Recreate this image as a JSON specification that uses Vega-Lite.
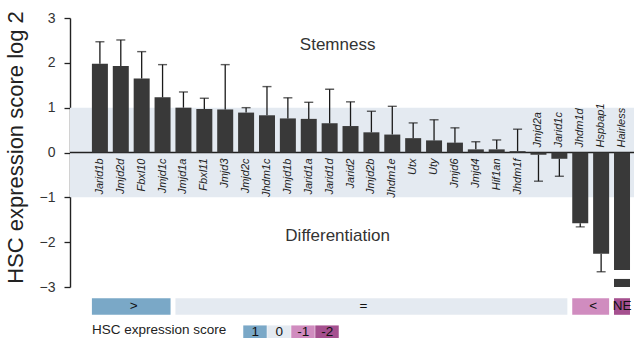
{
  "$schema": "https://vega.github.io/schema/vega-lite/v6.json",
  "width": 564,
  "height": 269,
  "autosize": "none",
  "padding": {"left": 70, "top": 18, "right": 0, "bottom": 51},
  "config": {
    "font": "Liberation Sans",
    "view": {"stroke": null}
  },
  "datasets": {
    "genes": [
      {"gene": "Jarid1b", "value": 1.98, "err": 2.47},
      {"gene": "Jmjd2d", "value": 1.93, "err": 2.51},
      {"gene": "Fbxl10", "value": 1.65, "err": 2.25},
      {"gene": "Jmjd1c", "value": 1.23, "err": 1.96},
      {"gene": "Jmjd1a", "value": 1.0, "err": 1.35},
      {"gene": "Fbxl11", "value": 0.97, "err": 1.21},
      {"gene": "Jmjd3", "value": 0.96, "err": 1.96},
      {"gene": "Jmjd2c", "value": 0.89, "err": 1.0},
      {"gene": "Jhdm1c", "value": 0.83, "err": 1.47},
      {"gene": "Jmjd1b", "value": 0.76, "err": 1.22},
      {"gene": "Jarid1a", "value": 0.75, "err": 1.12},
      {"gene": "Jarid1d", "value": 0.65, "err": 1.41},
      {"gene": "Jarid2", "value": 0.59, "err": 1.13},
      {"gene": "Jmjd2b", "value": 0.45, "err": 0.92},
      {"gene": "Jhdm1e", "value": 0.4, "err": 1.03},
      {"gene": "Utx", "value": 0.32, "err": 0.66},
      {"gene": "Uty", "value": 0.27, "err": 0.73},
      {"gene": "Jmjd6", "value": 0.22, "err": 0.55},
      {"gene": "Jmjd4", "value": 0.07, "err": 0.24},
      {"gene": "Hif1an", "value": 0.07, "err": 0.28},
      {"gene": "Jhdm1f", "value": 0.03, "err": 0.52},
      {"gene": "Jmjd2a", "value": -0.05, "err": -0.64},
      {"gene": "Jarid1c", "value": -0.14, "err": -0.53},
      {"gene": "Jhdm1d", "value": -1.58, "err": -1.66},
      {"gene": "Hspbap1", "value": -2.26, "err": -2.66},
      {"gene": "Hairless", "value": -2.62, "err": null}
    ],
    "breakSeg": [{"gene": "Hairless", "from": -2.82, "to": -3.0}],
    "band": [{"lo": -1, "hi": 1}],
    "zero": [{"v": 0}],
    "notes": [
      {"text": "Stemness", "gene": "Jarid1d", "v": 2.39},
      {"text": "Differentiation", "gene": "Jarid1d", "v": -1.86}
    ],
    "strip": [
      {"score": "1", "label": ">", "start": "Jarid1b", "end": "Jmjd1c", "mid": "Fbxl10"},
      {"score": "0", "label": "=", "start": "Jmjd1a", "end": "Jarid1c", "mid": "Jmjd2b"},
      {"score": "-1", "label": "<", "start": "Jhdm1d", "end": "Hspbap1", "mid": "Hspbap1"},
      {"score": "-2", "label": "NE", "start": "Hairless", "end": "Hairless", "mid": "Hairless"}
    ]
  },
  "data": {"name": "genes"},
  "encoding": {
    "x": {
      "field": "gene",
      "type": "nominal",
      "axis": null,
      "scale": {
        "domain": ["Jarid1b", "Jmjd2d", "Fbxl10", "Jmjd1c", "Jmjd1a", "Fbxl11", "Jmjd3", "Jmjd2c", "Jhdm1c", "Jmjd1b", "Jarid1a", "Jarid1d", "Jarid2", "Jmjd2b", "Jhdm1e", "Utx", "Uty", "Jmjd6", "Jmjd4", "Hif1an", "Jhdm1f", "Jmjd2a", "Jarid1c", "Jhdm1d", "Hspbap1", "Hairless"],
        "paddingInner": 0.234,
        "paddingOuter": 0.62,
        "align": 0.846
      }
    }
  },
  "layer": [
    {
      "data": {"name": "band"},
      "mark": {"type": "rect", "color": "#e4eaf1"},
      "encoding": {
        "x": null,
        "y": {
          "field": "lo",
          "type": "quantitative",
          "scale": {"domain": [-3, 3], "nice": false, "zero": false},
          "axis": {
            "values": [-3, -2, -1, 0, 1, 2, 3],
            "title": "HSC expression score log 2",
            "titleFontSize": 22,
            "titleFontWeight": "normal",
            "titleColor": "#222",
            "titlePadding": 12,
            "titleY": 129,
            "labelFontSize": 14,
            "labelColor": "#333",
            "labelPadding": 9,
            "tickSize": 6,
            "tickWidth": 1.3,
            "tickColor": "#222",
            "domainColor": "#222",
            "domainWidth": 1.4,
            "grid": false
          }
        },
        "y2": {"field": "hi"}
      }
    },
    {
      "data": {"name": "zero"},
      "mark": {"type": "rule", "color": "#222", "strokeWidth": 1.6},
      "encoding": {"x": null, "y": {"field": "v", "type": "quantitative"}}
    },
    {
      "mark": {"type": "bar", "color": "#393939"},
      "encoding": {"y": {"field": "value", "type": "quantitative"}}
    },
    {
      "data": {"name": "breakSeg"},
      "mark": {"type": "bar", "color": "#393939"},
      "encoding": {
        "y": {"field": "from", "type": "quantitative"},
        "y2": {"field": "to"}
      }
    },
    {
      "transform": [{"filter": "datum.err != null"}],
      "mark": {"type": "rule", "color": "#1a1a1a", "strokeWidth": 1.3},
      "encoding": {
        "y": {"field": "value", "type": "quantitative"},
        "y2": {"field": "err"}
      }
    },
    {
      "transform": [{"filter": "datum.err != null"}],
      "mark": {"type": "tick", "color": "#1a1a1a", "size": 9, "thickness": 1.4, "orient": "horizontal"},
      "encoding": {"y": {"field": "err", "type": "quantitative"}}
    },
    {
      "transform": [{"filter": "datum.value > 0"}],
      "mark": {"type": "text", "angle": 270, "align": "right", "baseline": "middle", "dx": -6, "fontSize": 11, "fontStyle": "italic", "color": "#222"},
      "encoding": {"y": {"datum": 0}, "text": {"field": "gene"}}
    },
    {
      "transform": [{"filter": "datum.value < 0"}],
      "mark": {"type": "text", "angle": 270, "align": "left", "baseline": "middle", "dx": 5, "fontSize": 11, "fontStyle": "italic", "color": "#222"},
      "encoding": {"y": {"datum": 0}, "text": {"field": "gene"}}
    },
    {
      "data": {"name": "notes"},
      "mark": {"type": "text", "fontSize": 17, "color": "#333", "align": "center", "baseline": "middle"},
      "encoding": {
        "x": {"field": "gene", "type": "nominal", "bandPosition": 1},
        "y": {"field": "v", "type": "quantitative"},
        "text": {"field": "text"}
      }
    },
    {
      "data": {"name": "strip"},
      "mark": {"type": "rect", "opacity": 1},
      "encoding": {
        "x": {"field": "start", "type": "nominal", "bandPosition": 0},
        "x2": {"field": "end", "bandPosition": 1},
        "y": {"datum": -3.25},
        "y2": {"datum": -3.62},
        "color": {
          "field": "score",
          "type": "nominal",
          "scale": {"domain": ["1", "0", "-1", "-2"], "range": ["#7aa8c7", "#e4eaf1", "#d08cbf", "#a5508f"]},
          "legend": {
            "orient": "none",
            "legendX": 22,
            "legendY": 302,
            "direction": "horizontal",
            "title": "HSC expression score",
            "titleOrient": "left",
            "titleFontSize": 13.5,
            "titleFontWeight": "normal",
            "titleColor": "#222",
            "titlePadding": 16,
            "titleBaseline": "middle",
            "symbolType": "M-1,-0.6H1V0.6H-1Z",
            "symbolSize": 552,
            "symbolStrokeWidth": 0,
            "symbolOpacity": 1,
            "labelAlign": "center",
            "labelBaseline": "middle",
            "labelOffset": -11.75,
            "labelFontSize": 13.5,
            "labelColor": "#111",
            "columnPadding": 0,
            "padding": 0
          }
        }
      }
    },
    {
      "data": {"name": "strip"},
      "transform": [{"filter": "datum.label != 'NE'"}],
      "mark": {"type": "text", "fontSize": 13.5, "color": "#111", "align": "center", "baseline": "middle"},
      "encoding": {
        "x": {"field": "mid", "type": "nominal", "bandPosition": 0},
        "y": {"datum": -3.42},
        "text": {"field": "label"}
      }
    },
    {
      "data": {"name": "strip"},
      "transform": [{"filter": "datum.label == 'NE'"}],
      "mark": {"type": "text", "fontSize": 13.5, "color": "#111", "align": "center", "baseline": "middle"},
      "encoding": {
        "x": {"field": "mid", "type": "nominal", "bandPosition": 0.5},
        "y": {"datum": -3.42},
        "text": {"field": "label"}
      }
    }
  ]
}
